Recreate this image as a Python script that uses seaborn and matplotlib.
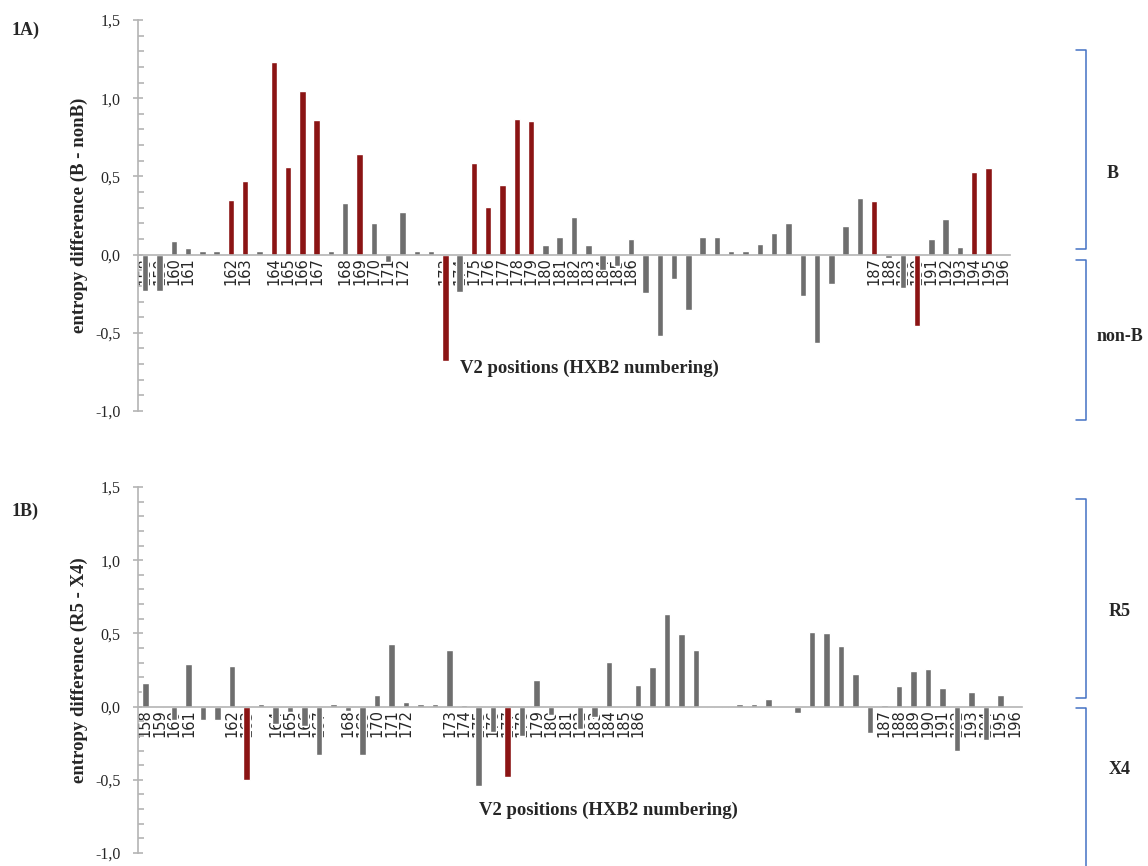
import numpy as np
import pandas as pd
import matplotlib.pyplot as plt
import seaborn as sns
from matplotlib.lines import Line2D
from matplotlib.ticker import MultipleLocator

# V2 positions (HXB2 numbering) - blank entries are insertion positions
positions = ["158", "159", "160", "161", "", "", "162", "163", "", "164",
             "165", "166", "167", "", "168", "169", "170", "171", "172", "",
             "", "173", "174", "175", "176", "177", "178", "179", "180", "181",
             "182", "183", "184", "185", "186", "", "", "", "", "",
             "", "", "", "", "", "", "", "", "", "",
             "", "187", "188", "189", "190", "191", "192", "193", "194", "195",
             "196"]

# 1A) entropy difference B - nonB
diff_b = [-0.23, -0.23, 0.09, 0.045, 0.025, 0.025, 0.35, 0.47, 0.025, 1.23,
          0.56, 1.045, 0.86, 0.025, 0.33, 0.645, 0.20, -0.05, 0.27, 0.025,
          0.025, -0.68, -0.24, 0.585, 0.305, 0.445, 0.87, 0.855, 0.06, 0.115,
          0.24, 0.06, -0.10, -0.075, 0.10, -0.245, -0.52, -0.155, -0.355, 0.11,
          0.115, 0.025, 0.025, 0.07, 0.135, 0.205, -0.265, -0.565, -0.19, 0.18,
          0.36, 0.345, -0.02, -0.215, -0.455, 0.10, 0.23, 0.05, 0.525, 0.555,
          0.0]
sig_b = [0, 0, 0, 0, 0, 0, 1, 1, 0, 1,
         1, 1, 1, 0, 0, 1, 0, 0, 0, 0,
         0, 1, 0, 1, 1, 1, 1, 1, 0, 0,
         0, 0, 0, 0, 0, 0, 0, 0, 0, 0,
         0, 0, 0, 0, 0, 0, 0, 0, 0, 0,
         0, 1, 0, 0, 1, 0, 0, 0, 1, 1,
         0]

# 1B) entropy difference R5 - X4
diff_r5 = [0.16, -0.01, -0.09, 0.29, -0.09, -0.09, 0.28, -0.50, 0.02, -0.12,
           -0.035, -0.13, -0.33, 0.02, -0.03, -0.33, 0.08, 0.43, 0.03, 0.02,
           0.02, 0.39, 0.01, -0.54, -0.175, -0.48, -0.20, 0.185, -0.06, 0.0,
           -0.15, -0.07, 0.305, -0.01, 0.15, 0.27, 0.63, 0.495, 0.39, -0.01,
           -0.01, 0.02, 0.02, 0.05, 0.0, -0.045, 0.51, 0.50, 0.415, 0.22,
           -0.18, 0.01, 0.14, 0.24, 0.26, 0.125, -0.30, 0.10, -0.23, 0.08,
           0.0]
sig_r5 = [0] * 61
sig_r5[7] = 1
sig_r5[25] = 1

y_ticks = [-1.0, -0.5, 0.0, 0.5, 1.0, 1.5]
y_ticklabels = ["-1,0", "-0,5", "0,0", "0,5", "1,0", "1,5"]

sns.set_style("white")
plt.rcParams["font.family"] = ["Liberation Serif", "DejaVu Serif"]

RED = "#8B1414"
GRAY = "#6E6E6E"
AXC = "#B4B4B4"
BLUE = "#4472C4"

W, H = 1148, 866
fig = plt.figure(figsize=(W / 100, H / 100), dpi=100)


def px_axes(x0, x1, ytop, ybot):
    return fig.add_axes([x0 / W, 1 - ybot / H, (x1 - x0) / W, (ybot - ytop) / H])


def draw_panel(ax, values, sig, ylabel, xlab_pos):
    df = pd.DataFrame({"pos": range(len(values)), "value": values,
                       "group": ["sig" if s else "ns" for s in sig]})
    sns.barplot(data=df, x="pos", y="value", hue="group", dodge=False,
                palette={"sig": RED, "ns": GRAY}, width=0.45, legend=False,
                saturation=1, ax=ax)
    ax.set_axisbelow(True)
    ax.set_xlim(-0.5, len(values) - 0.5)
    ax.set_ylim(-1.0, 1.5)
    for s in ["top", "right"]:
        ax.spines[s].set_visible(False)
    ax.spines["bottom"].set_position(("data", 0))
    ax.spines["bottom"].set_color(AXC)
    ax.spines["left"].set_color(AXC)
    ax.spines["bottom"].set_linewidth(1.2)
    ax.spines["left"].set_linewidth(1.2)
    ax.set_xticks(range(len(values)))
    ax.set_xticklabels(positions, rotation=90, fontsize=10.5,
                       family="DejaVu Sans", va="top")
    ax.tick_params(axis="x", length=0, pad=2)
    ax.set_yticks(y_ticks)
    ax.set_yticklabels(y_ticklabels, fontsize=11.5)
    ax.yaxis.set_minor_locator(MultipleLocator(0.1))
    ax.tick_params(axis="y", which="major", direction="inout", length=7,
                   color=AXC, width=1.2, pad=9, left=True)
    ax.tick_params(axis="y", which="minor", direction="in", length=4,
                   color=AXC, width=1.2, left=True)
    ax.set_xlabel("")
    ax.set_ylabel(ylabel, fontsize=13.5, fontweight="bold")
    ax.yaxis.set_label_coords(-0.057, 0.5)
    ax.text(xlab_pos[0], xlab_pos[1], "V2 positions (HXB2 numbering)",
            transform=ax.transAxes, ha="center", va="center",
            fontsize=13.5, fontweight="bold")


ax1 = px_axes(138, 1010, 20, 411)
draw_panel(ax1, diff_b, sig_b, "entropy difference (B - nonB)", (0.518, 0.11))

ax2 = px_axes(138, 1022, 487, 853)
draw_panel(ax2, diff_r5, sig_r5, "entropy difference (R5 - X4)", (0.532, 0.117))

fig.text(12 / W, 1 - 30 / H, "1A)", fontsize=13, fontweight="bold", va="center")
fig.text(12 / W, 1 - 511 / H, "1B)", fontsize=13, fontweight="bold", va="center")


def bracket(ytop, ybot):
    xs = [1076 / W, 1086 / W, 1086 / W, 1076 / W]
    ys = [1 - ytop / H, 1 - ytop / H, 1 - ybot / H, 1 - ybot / H]
    fig.add_artist(Line2D(xs, ys, color=BLUE, lw=1.1))


bracket(50, 249)
bracket(260, 420)
bracket(499, 698)
bracket(708, 870)

fig.text(1113 / W, 1 - 173 / H, "B", fontsize=13, fontweight="bold", ha="center", va="center")
fig.text(1097 / W, 1 - 336 / H, "non-B", fontsize=13, fontweight="bold", ha="left", va="center")
fig.text(1120 / W, 1 - 612 / H, "R5", fontsize=13, fontweight="bold", ha="center", va="center")
fig.text(1120 / W, 1 - 770 / H, "X4", fontsize=13, fontweight="bold", ha="center", va="center")

fig.savefig("out.png", dpi=100)
